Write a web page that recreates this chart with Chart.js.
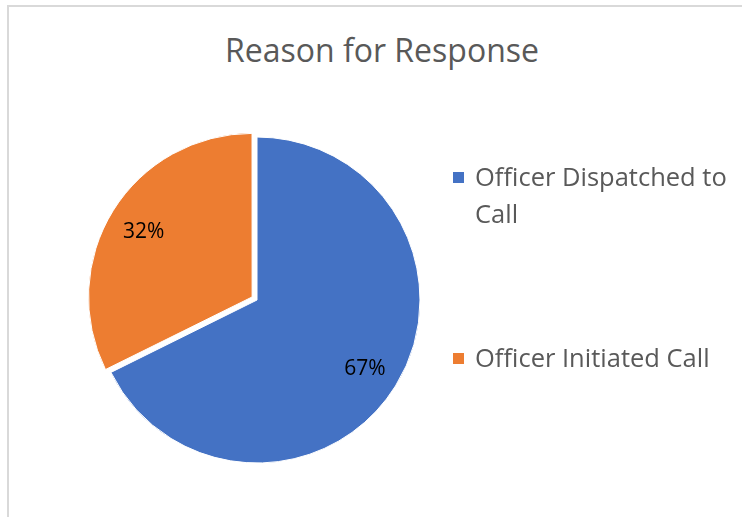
<!DOCTYPE html>
<html>
<head>
<meta charset="utf-8">
<script src="https://cdn.jsdelivr.net/npm/chart.js@4"></script>
<style>
  html, body { margin: 0; padding: 0; background: #fff; }
  #wrap { position: relative; width: 742px; height: 517px; overflow: hidden; font-family: "Open Sans", sans-serif; color: #595959; }
  #frame { position: absolute; left: 7px; top: 5px; right: -10px; bottom: -10px; border-left: 2px solid #d9d9d9; border-top: 2px solid #d9d9d9; }
  #titolo { position: absolute; left: 0; width: 764px; top: 30px; text-align: center; font-size: 32px; line-height: 40px; }
  #grafico { position: absolute; left: 0; top: 0; }
  .voce { position: absolute; left: 453px; width: 290px; font-size: 25.5px; line-height: 37px; }
  .voce .quadrato { position: absolute; left: 0; top: 14px; width: 11px; height: 11px; }
  .voce .testo { margin-left: 22px; display: block; width: 262px; }
</style>
</head>
<body>
<div id="wrap">
  <div id="frame"></div>
  <div id="titolo">Reason for Response</div>
  <canvas id="grafico" width="742" height="517"></canvas>
</div>
<script>
// Dati del grafico
const categorie = ["Officer Dispatched to Call", "Officer Initiated Call"];
const percentuali = [67, 32];
const colori = ["#4472C4", "#ED7D31"];
const distacchi = [0, 23];

// Legenda a destra (come in Excel, testo a capo)
const posizioniLegenda = [158, 339];
categorie.forEach((nome, i) => {
    const div = document.createElement("div");
    div.className = "voce";
    div.style.top = posizioniLegenda[i] + "px";
    div.innerHTML = `<span class="quadrato" style="background:${colori[i]}"></span><span class="testo">${nome}</span>`;
    document.getElementById("wrap").appendChild(div);
});

// Etichette percentuali dentro le fette
const etichette = {
    id: "etichette",
    afterDatasetsDraw(chart) {
        const ctx = chart.ctx;
        const meta = chart.getDatasetMeta(0);
        ctx.save();
        ctx.font = "21px 'Open Sans', sans-serif";
        ctx.fillStyle = "#000";
        ctx.textAlign = "center";
        ctx.textBaseline = "middle";
        meta.data.forEach((arco, i) => {
            const p = arco.getProps(["x", "y", "startAngle", "endAngle", "outerRadius", "circumference"], true);
            const medio = (p.startAngle + p.endAngle) / 2;
            // stesso spostamento che usa ArcElement quando disegna
            const off = (arco.options.offset || 0) / 4;
            const fix = 1 - Math.sin(Math.min(Math.PI, p.circumference || 0));
            const r = p.outerRadius * 0.78 + off * (1 + fix);
            ctx.fillText(percentuali[i] + "%", p.x + Math.cos(medio) * r, p.y + Math.sin(medio) * r + 2);
        });
        ctx.restore();
    }
};

new Chart(document.getElementById("grafico"), {
    type: "pie",
    data: {
        labels: categorie,
        datasets: [{
            data: percentuali,
            backgroundColor: colori,
            borderColor: "#ffffff",
            borderWidth: 1,
            offset: distacchi,
            hoverOffset: 0
        }]
    },
    options: {
        responsive: false,
        animation: false,
        layout: { padding: { left: 82, right: 310, top: 125, bottom: 42 } },
        plugins: {
            legend: { display: false },
            tooltip: { enabled: false }
        }
    },
    plugins: [etichette]
});
</script>
</body>
</html>
